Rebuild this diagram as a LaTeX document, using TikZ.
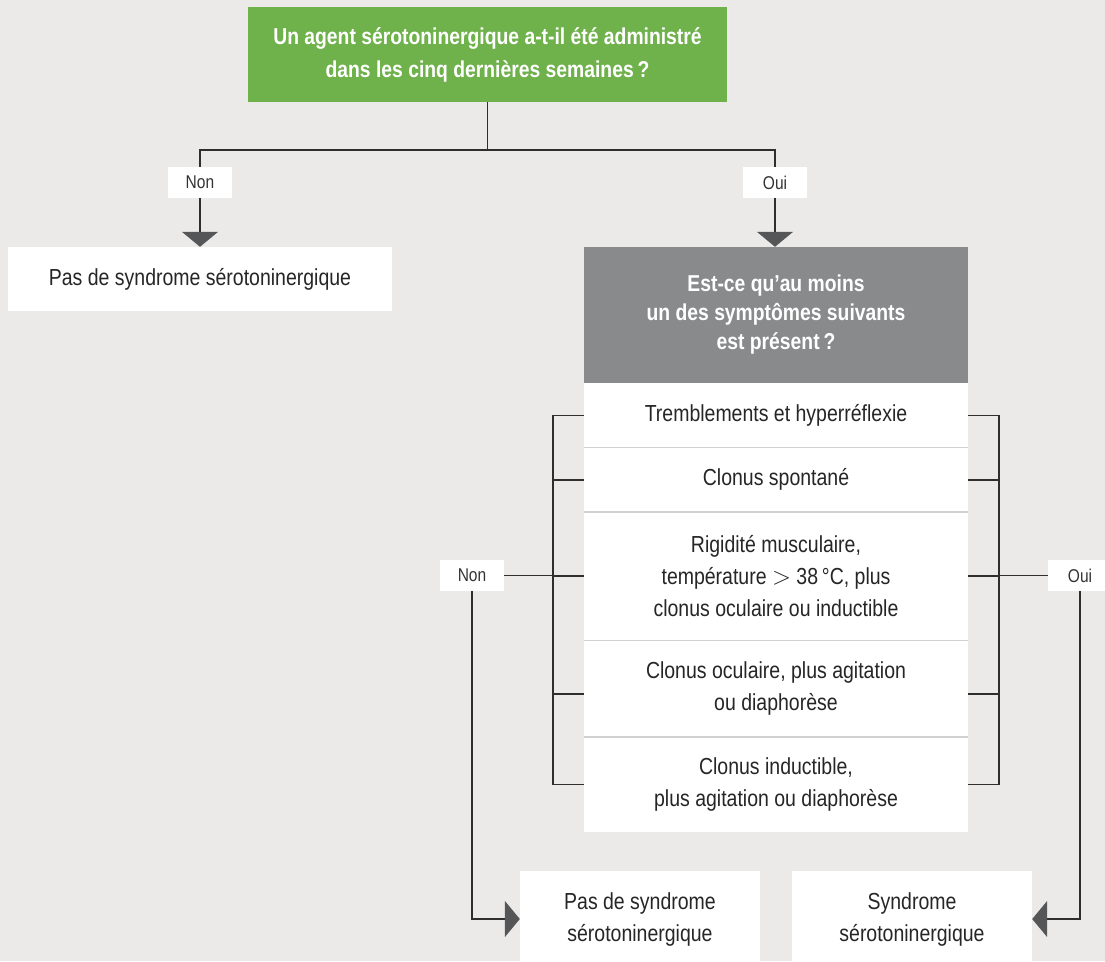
\documentclass[tikz,border=0pt]{standalone}
\usepackage{fontspec}
\setmainfont{Liberation Sans}[FakeStretch=0.84]
\usetikzlibrary{arrows.meta, positioning}
\definecolor{bgcol}{HTML}{EBEAE8}
\definecolor{qgreen}{HTML}{6FB14B}
\definecolor{qgray}{HTML}{898A8C}
\definecolor{tipcol}{HTML}{555658}
\definecolor{linecol}{HTML}{2E2E2E}
\definecolor{sepcol}{HTML}{D0D0D0}
\tikzset{>={Triangle[width=36pt,length=15pt]}}

\begin{document}
\begin{tikzpicture}[x=1pt, y=-1pt,
    txt/.style={font=\fontsize{23.2}{32}\selectfont, align=center, inner sep=0pt},
    qbox/.style={txt, fill=qgreen, text=white, font=\fontsize{23}{33}\selectfont\bfseries},
    gbox/.style={txt, fill=qgray, text=white, font=\fontsize{23}{29}\selectfont\bfseries},
    item/.style={txt, fill=white, minimum width=384pt, text=black!85},
    res/.style={txt, fill=white, text=black!85},
    lab/.style={fill=white, inner sep=0pt, minimum width=64pt, minimum height=31pt,
        font=\fontsize{18.5}{20}\selectfont, text=black!80},
    conn/.style={draw=linecol, line width=1.5pt},
    arr/.style={conn, -{>[fill=tipcol, color=tipcol]}},
    sep/.style={draw=sepcol, line width=1.5pt}]
    \useasboundingbox (0,0) rectangle (1105,961);
    \fill[bgcol] (0,0) rectangle (1105,961);

    % question boxes
    \node[qbox, minimum width=479pt, minimum height=95pt] (agent) at (487.5,54.5)
        {Un agent sérotoninergique a-t-il été administré\\dans les cinq dernières semaines\,?};
    \node[gbox, minimum width=384pt, minimum height=136pt] (sympt) at (776,315)
        {Est-ce qu’au moins\\un des symptômes suivants\\est présent\,?};

    % symptoms
    \node[item, minimum height=64pt, below=0pt of sympt] (r1) {Tremblements et hyperréflexie};
    \node[item, minimum height=64pt, below=0pt of r1] (r2) {Clonus spontané};
    \node[item, minimum height=128pt, below=0pt of r2] (r3)
        {Rigidité musculaire,\\température $>$ 38\,°C, plus\\clonus oculaire ou inductible};
    \node[item, minimum height=96pt, below=0pt of r3] (r4) {Clonus oculaire, plus agitation\\ou diaphorèse};
    \node[item, minimum height=95pt, below=0pt of r4] (r5) {Clonus inductible,\\plus agitation ou diaphorèse};
    \foreach \r in {r1,r2,r3,r4}
        \draw[sep] (\r.south west) -- (\r.south east);

    % results
    \node[res, minimum width=384pt, minimum height=64pt] (none1) at (200,279) {Pas de syndrome sérotoninergique};
    \node[res, minimum width=240pt, minimum height=96pt] (none2) at (640,919) {Pas de syndrome\\sérotoninergique};
    \node[res, minimum width=240pt, minimum height=96pt] (yes) at (912,919) {Syndrome\\sérotoninergique};

    % labels
    \node[lab] (nonA) at (200,182.5) {Non};
    \node[lab] (ouiA) at (775,182.5) {Oui};
    \node[lab] (nonB) at (472,575.5) {Non};
    \node[lab] (ouiB) at (1080,575.5) {Oui};

    % first split
    \coordinate (split) at (487.5,150);
    \draw[conn] (agent.south) -- (split) -| (nonA.north);
    \draw[conn] (split) -| (ouiA.north);
    \draw[arr] (nonA.south) -- (none1.north);
    \draw[arr] (ouiA.south) -- (sympt.north -| ouiA);

    % brackets
    \coordinate (lb) at (553,575.5);
    \coordinate (rb) at (999,575.5);
    \coordinate (t4) at (0,694);
    \draw[conn] (r1.west -| lb) -- (r5.west -| lb);
    \draw[conn] (r1.east -| rb) -- (r5.east -| rb);
    \foreach \r in {r1,r2,r3,r5} {
        \draw[conn] (\r.west) -- (\r.west -| lb);
        \draw[conn] (\r.east) -- (\r.east -| rb);
    }
    \draw[conn] (r4.west |- t4) -- (lb |- t4);
    \draw[conn] (r4.east |- t4) -- (rb |- t4);
    \draw[conn] (nonB.east) -- (lb);
    \draw[conn] (ouiB.west) -- (rb);

    % outcomes
    \draw[arr] (nonB.south) |- (none2.west);
    \draw[arr] (ouiB.south) |- (yes.east);
\end{tikzpicture}
\end{document}
